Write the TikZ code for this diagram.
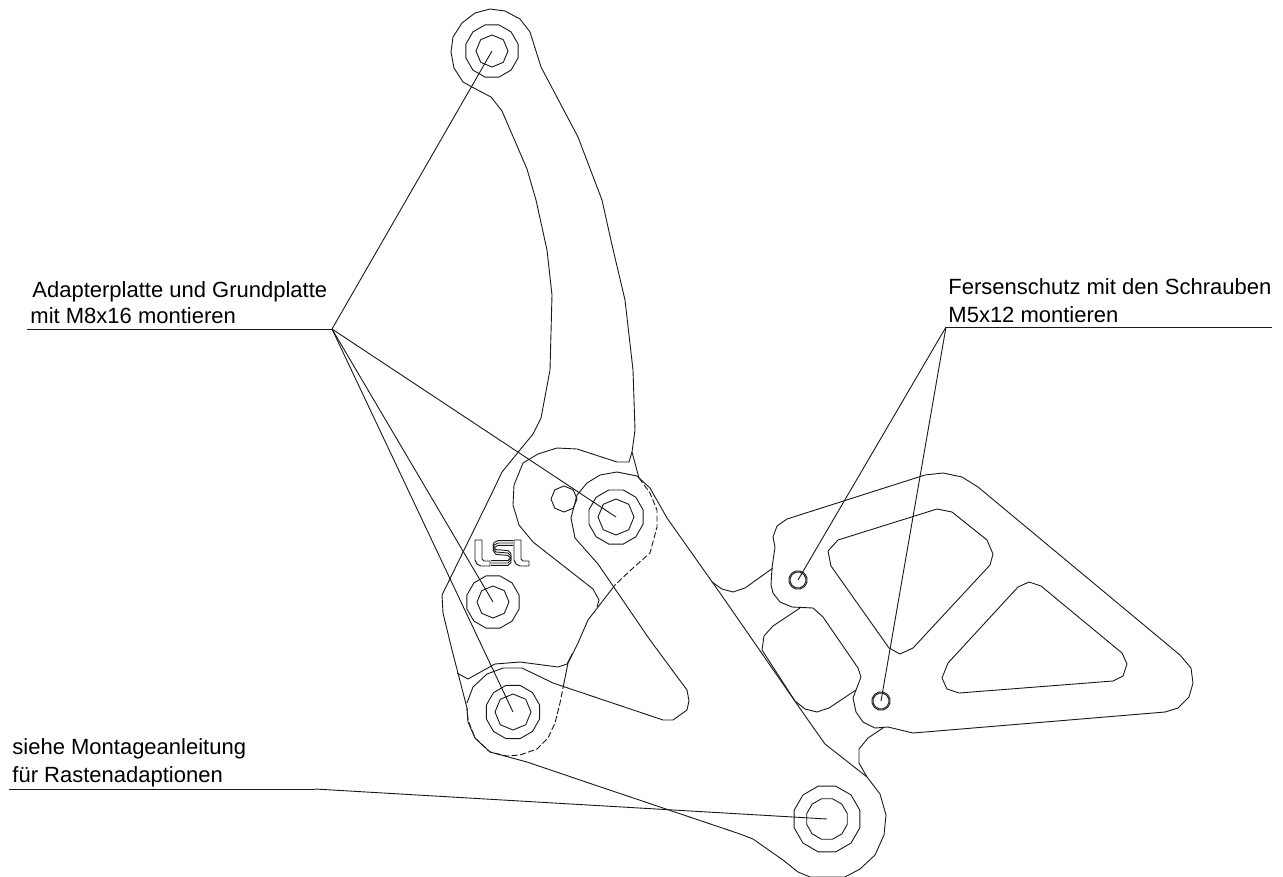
\documentclass[tikz,border=0pt]{standalone}
\usepackage{fontspec}
\setmainfont{Liberation Sans}
\usepackage{tikz}
\usetikzlibrary{shapes.geometric,positioning}

\begin{document}
\begin{tikzpicture}[x=1pt,y=-1pt,line width=0.9pt,line join=round]
    \tikzstyle{part}=[black!90]
    \tikzstyle{hidden}=[black!90,dash pattern=on 6pt off 2.5pt]
    \tikzstyle{leader}=[black!90]
    \tikzstyle{logo}=[black!90,line width=0.9pt]

    \tikzstyle{note}=[anchor=base west,inner sep=0pt,font=\fontsize{22}{24}\selectfont]
    \tikzstyle{hole}=[regular polygon,draw=black!90,inner sep=0pt,outer sep=0pt]
    \tikzstyle{H8}=[hole,regular polygon sides=8,shape border rotate=22.5]   % bore
    \tikzstyle{H12}=[hole,regular polygon sides=12]                          % collar

    \useasboundingbox (0,0) rectangle (1283,876);

    % lever arm, foot rest hub and main plate
    \draw[part] (632,452) -- (635,430) -- (633,370) -- (625,300) -- (612,245) -- (602,200) -- (578,137)
        -- (541,67) -- (530,32) -- (520,19) -- (505,11) -- (490,9) -- (475,13) -- (462,23) -- (453,37)
        -- (451,52) -- (454,68) -- (463,82) -- (472,87) -- (491,97) -- (502,111) -- (527,169) -- (536,200)
        -- (547,250) -- (552,295) -- (550,370) -- (541,418) -- (533,434) -- (502,472) -- (492,493)
        -- (442,595) -- (443,613) -- (452,650) -- (467,708) -- (468,722) -- (475,738) -- (490,752)
        -- (527,762) -- (580,780) -- (740,834) -- (753,839) -- (783,860) -- (798,872) -- (810,877)
        -- (845,877) -- (860,869) -- (875,855) -- (884,835) -- (886,815) -- (880,794) -- (867,777)
        -- (825,744) -- (808,720) -- (720,593) -- (667,518) -- (650,488) -- (637,476) -- (617,472)
        -- (600,475) -- (587,483) -- (577,495) -- (571,518) -- (575,538) -- (598,564) -- (650,640)
        -- (687,690) -- (689,701) -- (687,710) -- (673,720) -- (663,720) -- (553,683) -- (522,668)
        -- (503,668) -- (487,674) -- (473,687) -- (467,703);
    \draw[part] (632,452) -- (639,478);

    % adapter plate
    \draw[part] (632,452) -- (629,462) -- (617,462) -- (577,449) -- (557,448) -- (538,454) -- (523,463)
        -- (514,485) -- (513,505) -- (519,525) -- (533,542) -- (593,589) -- (599,600) -- (597,607);
    \draw[part] (615,585) -- (588,620) -- (578,643) -- (568,663) -- (564,683);
    \draw[part] (457,673) -- (468,679) -- (495,664) -- (520,662) -- (558,667) -- (567,664) -- (572,654);
    \draw[hidden] (639,478) -- (650,493) -- (657,510) -- (657,527) -- (650,553) -- (633,568) -- (615,585);
    \draw[hidden] (564,683) -- (560,703) -- (555,723) -- (548,738) -- (537,749) -- (520,755) -- (507,756)
        -- (490,752) -- (475,738) -- (468,720) -- (467,708);

    % heel guard
    \draw[part] (772,568) -- (775,547) -- (773,537) -- (777,526) -- (787,519) -- (925,475) -- (943,473)
        -- (962,477) -- (978,487) -- (1180,655) -- (1191,668) -- (1193,683) -- (1189,697) -- (1178,708)
        -- (1165,712) -- (913,733) -- (888,727) -- (875,728) -- (863,722) -- (856,712) -- (853,698)
        -- (856,690) -- (861,677) -- (858,668) -- (823,617) -- (813,608) -- (792,607) -- (780,602)
        -- (773,593) -- (771,585) -- cycle;
    \draw[part] (828,551) -- (838,540) -- (937,509) -- (952,512) -- (987,540) -- (993,554) -- (990,565)
        -- (913,648) -- (900,654) -- (889,648) -- (831,566) -- cycle;
    \draw[part] (948,663) -- (942,678) -- (947,689) -- (959,693) -- (1113,681) -- (1123,676) -- (1127,664)
        -- (1122,653) -- (1041,586) -- (1029,582) -- (1018,587) -- cycle;
    \draw[part] (800,608) -- (773,626) -- (764,636) -- (762,650) -- (795,701) -- (805,709) -- (817,712)
        -- (829,708) -- (856,690);
    \draw[part] (712,582) -- (722,589) -- (733,592) -- (745,588) -- (773,568);
    \draw[part] (867,777) -- (859,763) -- (859,749) -- (868,738) -- (883,728);

    % bores
    \node[H8,minimum size=32pt] (top) at (492,51) {};
    \node[H12,minimum size=54pt] (topring) at (492,51) {};
    \node[H8,minimum size=36pt] (pivot) at (616,517) {};
    \node[H12,minimum size=56pt] (pivotring) at (616,517) {};
    \node[H8,minimum size=26pt] (pin) at (564,499) {};
    \node[H8,minimum size=32pt] (mid) at (493,602) {};
    \node[H12,minimum size=54pt] (midring) at (493,602) {};
    \node[H8,minimum size=36pt] (low) at (513,712) {};
    \node[H12,minimum size=55pt] (lowring) at (513,712) {};
    \node[H12,minimum size=42pt] (end) at (827,819) {};
    \node[H12,minimum size=68pt] (endring) at (827,819) {};
    \node[H12,minimum size=16pt] (heelA) at (798,580) {};
    \node[H12,minimum size=18.5pt] (heelAring) at (798,580) {};
    \node[H12,minimum size=16pt] (heelB) at (881,701) {};
    \node[H12,minimum size=18.5pt] (heelBring) at (881,701) {};

    % logo
    \draw[logo] (475,540) -- (482,540) -- (482,559) -- (484,561) -- (490,561) -- (490,566) -- (481,566)
        -- (477,564) -- (475,560) -- cycle;
    \foreach \d in {-2.4,0,2.4}
        \draw[logo,yshift=-\d pt] (513,543) -- (498,543) -- (494,545) -- (493,548) -- (496,552) -- (508,553)
            -- (511,556) -- (511,560) -- (508,563) -- (491,563);
    \draw[logo] (514,540) -- (521,540) -- (521,559) -- (523,561) -- (529,561) -- (529,566) -- (520,566)
        -- (516,564) -- (514,560) -- cycle;

    % notes
    \node[note] (adaptA) at (32,297) {Adapterplatte und Grundplatte};
    \node[note] (adaptB) at (30,323) {mit M8x16 montieren};
    \node[note] (heelTextA) at (948,294) {Fersenschutz mit den Schrauben};
    \node[note] (heelTextB) at (948,322) {M5x12 montieren};
    \node[note] (rastA) at (12,754) {siehe Montageanleitung};
    \node[note] (rastB) at (12,782) {für Rastenadaptionen};

    \coordinate (adaptStart) at (27,329);
    \coordinate (adaptJoin) at (332,329);
    \coordinate (heelJoin) at (946,327);
    \coordinate (heelEnd) at (1272,327);
    \coordinate (rastStart) at (9,789);
    \coordinate (rastJoin) at (315,789);

    \draw[leader] (adaptStart) -- (adaptJoin);
    \draw[leader] (adaptJoin) -- (top.center);
    \draw[leader] (adaptJoin) -- (pivot.center);
    \draw[leader] (adaptJoin) -- (mid.center);
    \draw[leader] (adaptJoin) -- (low.center);
    \draw[leader] (heelEnd) -- (heelJoin);
    \draw[leader] (heelJoin) -- (heelA.center);
    \draw[leader] (heelJoin) -- (heelB.center);
    \draw[leader] (rastStart) -- (rastJoin);
    \draw[leader] (rastJoin) -- (end.center);
\end{tikzpicture}
\end{document}
